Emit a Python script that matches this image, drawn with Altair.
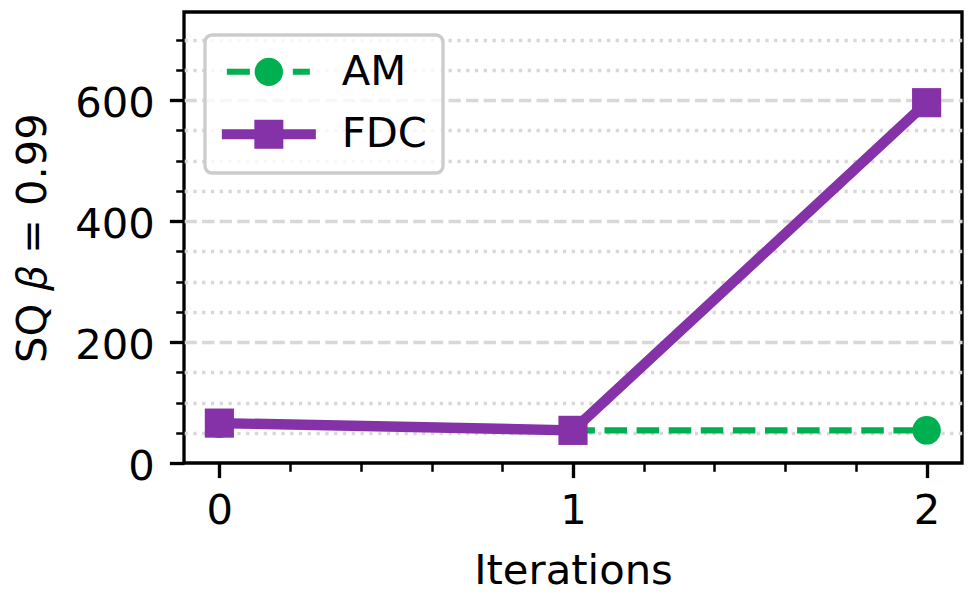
import altair as alt
import pandas as pd

# Values per iteration for each method
iterations = [0, 1, 2]
am_values = [65, 54, 54]
fdc_values = [66, 54, 596]
series_names = ["AM", "FDC"]
series_colors = ["#00b050", "#8531a8"]

# Tick positions
y_major = [0, 200, 400, 600]
y_minor = [50, 100, 150, 250, 300, 350, 450, 500, 550, 650, 700]
x_major = [0, 1, 2]
x_minor = [0.2, 0.4, 0.6, 0.8, 1.2, 1.4, 1.6, 1.8]

x_domain = [-0.1, 2.1]
y_domain = [0, 746]

am = pd.DataFrame({"iteration": iterations, "value": am_values, "series": "AM"})
fdc = pd.DataFrame({"iteration": iterations, "value": fdc_values, "series": "FDC"})
both = pd.concat([am, fdc], ignore_index=True)

FS = 41.7   # 10 pt text
LW = 3.33   # 0.8 pt rules
FONT = "DejaVu Sans"

xs = alt.Scale(domain=x_domain, nice=False, zero=False)
ys = alt.Scale(domain=y_domain, nice=False, zero=False)

x_minor_axis = alt.Axis(
    orient="bottom", values=x_minor, labels=False, title=None, domain=False,
    grid=False, tickSize=8.3, tickWidth=2.5, tickColor="black",
)
y_minor_axis = alt.Axis(
    orient="left", values=y_minor, labels=False, title=None, domain=False,
    grid=True, gridDash=[3.3, 5.5], gridWidth=LW, gridColor="#d8d8d8",
    tickSize=8.3, tickWidth=2.5, tickColor="black",
)
x_major_axis = alt.Axis(
    orient="bottom", values=x_major, format="d", title="Iterations",
    labelFontSize=FS, titleFontSize=FS, titleFontWeight="normal",
    labelColor="black", titleColor="black", labelFont=FONT, titleFont=FONT,
    tickSize=14.6, tickWidth=LW, tickColor="black", domain=False, grid=False,
    labelPadding=12.8, titlePadding=18,
)
y_major_axis = alt.Axis(
    orient="left", values=y_major, format="d", title="SQ 𝛽 = 0.99",
    labelFontSize=FS, titleFontSize=FS, titleFontWeight="normal",
    labelColor="black", titleColor="black", labelFont=FONT, titleFont=FONT,
    tickSize=14.6, tickWidth=LW, tickColor="black", domain=False,
    grid=True, gridDash=[12.3, 5.3], gridWidth=LW, gridColor="#d8d8d8",
    gridOpacity=alt.ConditionalAxisNumber(
        condition={"test": "datum.value == 0", "value": 0}, value=1
    ),
    labelPadding=15, labelOffset=3.5, titlePadding=20,
)

# Legend handles: dashed line with circle, thick line with square
am_handle = (
    "M-2.8,-0.2H-1.267V0.2H-2.8Z "
    "M1.6,-0.2H2.733V0.2H1.6Z "
    "M-0.947,0A0.947,0.947 0 1,0 0.947,0A0.947,0.947 0 1,0 -0.947,0Z"
)
fdc_handle = (
    "M-3.133,-0.333H3.133V0.333H-3.133Z "
    "M-0.967,-0.967H0.967V0.967H-0.967Z"
)

am_line = alt.Chart(am).mark_line(
    color=series_colors[0], strokeWidth=6.25, strokeDash=[22.5, 9.6], strokeCap="butt"
).encode(
    x=alt.X("iteration:Q", scale=xs, axis=x_minor_axis),
    y=alt.Y("value:Q", scale=ys, axis=y_minor_axis),
)
am_pts = alt.Chart(am).mark_point(
    shape="circle", filled=True, size=810, color=series_colors[0], opacity=1
).encode(
    x=alt.X("iteration:Q", scale=xs, axis=None),
    y=alt.Y("value:Q", scale=ys, axis=None),
)
fdc_line = alt.Chart(fdc).mark_line(
    color=series_colors[1], strokeWidth=10.4, strokeJoin="round", strokeCap="square"
).encode(
    x=alt.X("iteration:Q", scale=xs, axis=x_major_axis),
    y=alt.Y("value:Q", scale=ys, axis=y_major_axis),
)
fdc_pts = alt.Chart(fdc).mark_point(
    shape="square", filled=True, size=850, color=series_colors[1], opacity=1
).encode(
    x=alt.X("iteration:Q", scale=xs, axis=None),
    y=alt.Y("value:Q", scale=ys, axis=None),
)
legend_layer = alt.Chart(both).transform_filter("false").mark_point(
    filled=True, size=900, opacity=1
).encode(
    x=alt.X("iteration:Q", scale=xs, axis=None),
    y=alt.Y("value:Q", scale=ys, axis=None),
    color=alt.Color(
        "series:N",
        scale=alt.Scale(domain=series_names, range=series_colors),
        legend=alt.Legend(
            orient="none", legendX=21, legendY=23, title=None,
            labelFontSize=FS, labelFont=FONT, labelColor="black",
            symbolSize=900, symbolStrokeWidth=0, symbolOffset=27,
            labelOffset=52, rowPadding=19.5, padding=16,
            strokeColor="#cccccc", fillColor="rgba(255,255,255,0.8)",
            cornerRadius=7,
        ),
    ),
    shape=alt.Shape(
        "series:N",
        scale=alt.Scale(domain=series_names, range=[am_handle, fdc_handle]),
        legend=None,
    ),
)

chart = (
    alt.layer(am_line, am_pts, fdc_line, fdc_pts, legend_layer)
    .resolve_axis(x="independent", y="independent")
    .properties(
        width=778, height=451,
        autosize=alt.AutoSizeParams(type="none"),
        padding={"left": 184, "top": 12, "right": 13, "bottom": 140},
    )
    .configure(font=FONT)
    .configure_view(stroke="black", strokeWidth=LW)
    .configure_legend(strokeWidth=LW)
)

chart.save("out.html", embed_options={"renderer": "svg", "actions": False})
